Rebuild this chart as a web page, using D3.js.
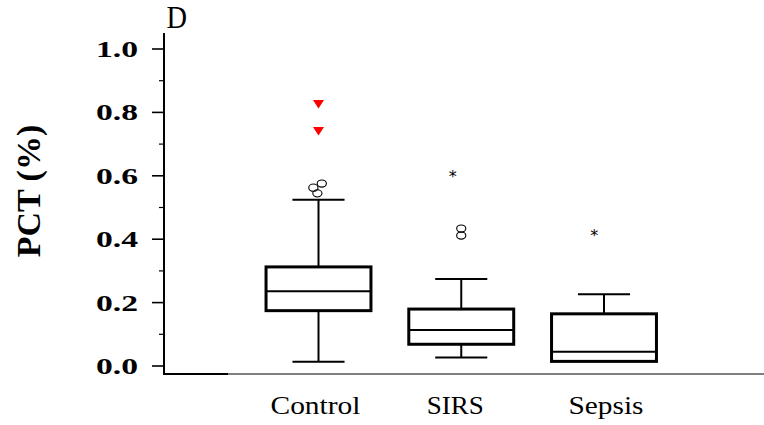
<!DOCTYPE html>
<html>
<head>
<meta charset="utf-8">
<script src="https://cdn.jsdelivr.net/npm/d3@7"></script>
<style>
  html, body { margin: 0; padding: 0; background: #fff; }
  svg { display: block; }
</style>
</head>
<body>
<svg id="chart" width="764" height="425"></svg>
<script>
// Groups and five-number summaries of PCT (%)
const groups   = ["Control", "SIRS", "Sepsis"];
const lowWhisk = [0.012, 0.025, 0.013];
const q1       = [0.173, 0.067, 0.013];
const medians  = [0.234, 0.112, 0.043];
const q3       = [0.311, 0.178, 0.163];
const highWhisk= [0.523, 0.273, 0.225];

// Outliers: group, value, marker type, small horizontal jitter (in band steps)
const outGroup  = ["Control", "Control", "Control", "Control", "Control", "SIRS", "SIRS", "SIRS", "Sepsis"];
const outValue  = [0.543, 0.561, 0.574, 0.74, 0.825, 0.410, 0.432, 0.604, 0.419];
const outType   = ["circle", "circle", "circle", "extreme", "extreme", "circle", "circle", "star", "star"];
const outJitter = [-0.008, -0.036, 0.023, 0, 0, 0, 0, -0.06, -0.068];

const yTicks      = [0, 0.2, 0.4, 0.6, 0.8, 1.0];
const yMinorTicks = [0.1, 0.3, 0.5, 0.7, 0.9];
const yTitle = "PCT (%)";
const panelLabel = "D";

const svg = d3.select("#chart");
const serif = "'Liberation Serif', 'Times New Roman', serif";

const y = d3.scaleLinear().domain([0, 1]).range([365.5, 48.5]);
const x = d3.scalePoint().domain(groups).range([318.5, 604]);
const step = x.step();
const boxW = step * 0.735;
const capW = step * 0.365;
const axisX = 164, axisBottom = 374;

// y axis: major ticks with labels
const yAxis = svg.append("g")
  .attr("transform", `translate(${axisX},0)`)
  .call(d3.axisLeft(y).tickValues(yTicks).tickSize(12).tickFormat(d3.format(".1f")).tickPadding(14));
yAxis.select(".domain").remove();
yAxis.selectAll(".tick line").attr("stroke", "#000").attr("stroke-width", 1.6);
yAxis.selectAll(".tick text")
  .attr("font-family", serif).attr("font-weight", "bold").attr("font-size", 24)
  .attr("fill", "#000").attr("dy", "0.33em")
  .attr("textLength", 42).attr("lengthAdjust", "spacingAndGlyphs");

// minor ticks
const yMinor = svg.append("g")
  .attr("transform", `translate(${axisX},0)`)
  .call(d3.axisLeft(y).tickValues(yMinorTicks).tickSize(5).tickFormat(""));
yMinor.select(".domain").remove();
yMinor.selectAll(".tick line").attr("stroke", "#000").attr("stroke-width", 1.2);

// axis lines
svg.append("line").attr("x1", axisX).attr("x2", axisX).attr("y1", 33).attr("y2", axisBottom + 1)
  .attr("stroke", "#000").attr("stroke-width", 2);
svg.append("line").attr("x1", axisX - 1).attr("x2", 228).attr("y1", axisBottom).attr("y2", axisBottom)
  .attr("stroke", "#000").attr("stroke-width", 2.2);
svg.append("line").attr("x1", 228).attr("x2", 764).attr("y1", axisBottom).attr("y2", axisBottom)
  .attr("stroke", "#000").attr("stroke-width", 1.2);

// category labels
const labelLen = { Control: 90, SIRS: 57, Sepsis: 75 };
const labelShift = { Control: -3, SIRS: -6, Sepsis: 2 };
svg.append("g").selectAll("text").data(groups).join("text")
  .attr("x", d => x(d) + labelShift[d]).attr("y", 414)
  .attr("text-anchor", "middle")
  .attr("font-family", serif).attr("font-size", 26).attr("fill", "#000")
  .attr("textLength", d => labelLen[d]).attr("lengthAdjust", "spacingAndGlyphs")
  .text(d => d);

// y title
svg.append("text")
  .attr("transform", `translate(39.5,191) rotate(-90)`)
  .attr("text-anchor", "middle")
  .attr("font-family", serif).attr("font-weight", "bold").attr("font-size", 34).attr("fill", "#000")
  .text(yTitle);

// panel label
svg.append("text").attr("x", 166.5).attr("y", 28.3)
  .attr("font-family", serif).attr("font-size", 31).attr("fill", "#000")
  .attr("textLength", 20.5).attr("lengthAdjust", "spacingAndGlyphs")
  .text(panelLabel);

// boxes
const boxes = groups.map((g, i) => ({ g, lo: lowWhisk[i], q1: q1[i], med: medians[i], q3: q3[i], hi: highWhisk[i] }));
const bg = svg.append("g").selectAll("g").data(boxes).join("g");

// whiskers
bg.append("line").attr("x1", d => x(d.g)).attr("x2", d => x(d.g))
  .attr("y1", d => y(d.q3)).attr("y2", d => y(d.hi)).attr("stroke", "#000").attr("stroke-width", 2);
bg.append("line").attr("x1", d => x(d.g)).attr("x2", d => x(d.g))
  .attr("y1", d => y(d.q1)).attr("y2", d => y(d.lo)).attr("stroke", "#000").attr("stroke-width", 2);
bg.append("line").attr("x1", d => x(d.g) - capW / 2).attr("x2", d => x(d.g) + capW / 2)
  .attr("y1", d => y(d.hi)).attr("y2", d => y(d.hi)).attr("stroke", "#000").attr("stroke-width", 2);
bg.filter(d => d.lo < d.q1).append("line").attr("x1", d => x(d.g) - capW / 2).attr("x2", d => x(d.g) + capW / 2)
  .attr("y1", d => y(d.lo)).attr("y2", d => y(d.lo)).attr("stroke", "#000").attr("stroke-width", 2);
// box
bg.append("rect").attr("x", d => x(d.g) - boxW / 2).attr("width", boxW)
  .attr("y", d => y(d.q3)).attr("height", d => y(d.q1) - y(d.q3))
  .attr("fill", "#fff").attr("stroke", "#000").attr("stroke-width", 3);
// median
bg.append("line").attr("x1", d => x(d.g) - boxW / 2).attr("x2", d => x(d.g) + boxW / 2)
  .attr("y1", d => y(d.med)).attr("y2", d => y(d.med)).attr("stroke", "#000").attr("stroke-width", 2);

// outliers
const outliers = outValue.map((v, i) => ({ g: outGroup[i], v, t: outType[i], j: outJitter[i] }));
const og = svg.append("g");
og.selectAll("ellipse").data(outliers.filter(d => d.t === "circle")).join("ellipse")
  .attr("cx", d => x(d.g) + d.j * step).attr("cy", d => y(d.v))
  .attr("rx", 4.6).attr("ry", 3.6)
  .attr("fill", "none").attr("stroke", "#000").attr("stroke-width", 1.1);
og.selectAll("path.ext").data(outliers.filter(d => d.t === "extreme")).join("path")
  .attr("class", "ext")
  .attr("d", d => {
    const cx = x(d.g) + d.j * step, cy = y(d.v);
    return `M${cx - 5.5},${cy - 4}L${cx + 5.5},${cy - 4}L${cx},${cy + 4.5}Z`;
  })
  .attr("fill", "#f00");
og.selectAll("text.star").data(outliers.filter(d => d.t === "star")).join("text")
  .attr("class", "star")
  .attr("x", d => x(d.g) + d.j * step).attr("y", d => y(d.v) + 8)
  .attr("text-anchor", "middle")
  .attr("font-family", "'DejaVu Sans', sans-serif").attr("font-size", 16).attr("fill", "#000")
  .text("*");
</script>
</body>
</html>
